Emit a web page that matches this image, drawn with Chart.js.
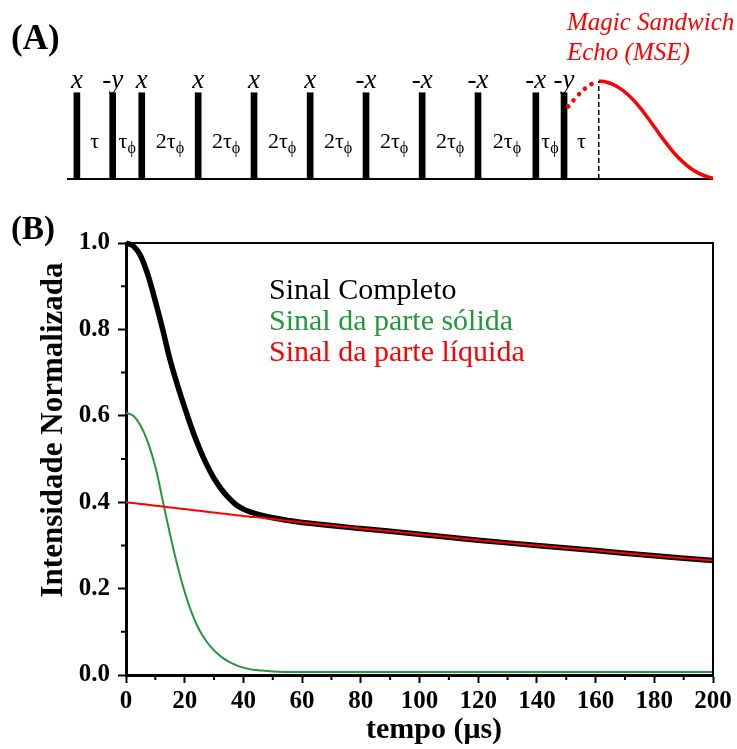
<!DOCTYPE html>
<html>
<head>
<meta charset="utf-8">
<script src="https://cdn.jsdelivr.net/npm/chart.js@4.4.0/dist/chart.umd.min.js"></script>
<style>
body { margin: 0; background: #fff; }
#wrap { position: relative; width: 737px; height: 749px; }
#pulseCanvas { position: absolute; left: 0; top: 0; }
#decayCanvas { position: absolute; left: 0; top: 200px; }
</style>
</head>
<body>
<div id="wrap">
<canvas id="pulseCanvas" width="737" height="200"></canvas>
<canvas id="decayCanvas" width="737" height="549"></canvas>
</div>
<script>
// ---- Panel (A): MSE pulse sequence (time in units of tau_phi) ----
const pulseTimes = [0, 1.27, 2.3, 4.3, 6.28, 8.27, 10.25, 12.24, 14.22, 16.27, 17.27];
const pulseHeights = [0.88, 0.88, 0.88, 0.88, 0.88, 0.88, 0.88, 0.88, 0.88, 0.88, 0.88];
const pulsePhases = ['x', '-y', 'x', 'x', 'x', 'x', '-x', '-x', '-x', '-x', '-y'];
const delayMain = ['τ', 'τ', '2τ', '2τ', '2τ', '2τ', '2τ', '2τ', '2τ', 'τ', 'τ'];
const delaySub = ['', 'ϕ', 'ϕ', 'ϕ', 'ϕ', 'ϕ', 'ϕ', 'ϕ', 'ϕ', 'ϕ', ''];

const echoTimes = [18.5, 18.75, 19.0, 19.25, 19.5, 19.75, 20.0, 20.25, 20.5, 20.75, 21.0, 21.25, 21.5, 21.75, 22.0, 22.25, 22.5, 22.55];
const echoValues = [1.0, 0.99, 0.965, 0.925, 0.87, 0.80, 0.715, 0.62, 0.52, 0.42, 0.325, 0.24, 0.17, 0.11, 0.065, 0.033, 0.012, 0.008];
const riseTimes = [17.42, 17.75, 18.0, 18.25, 18.5];
const riseValues = [0.74, 0.85, 0.92, 0.97, 1.0];
const echoPeak = 18.5;
const sequenceStart = -0.35;
const sequenceEnd = 22.55;

// ---- Panel (B): normalized signal vs time ----
const tempo = [0, 2.5, 5, 7.5, 10, 12.5, 15, 17.5, 20, 22.5, 25, 27.5, 30, 32.5, 35, 37.5, 40, 42.5, 45, 50, 55, 60, 80, 100, 120, 140, 160, 180, 200];
const sinalCompleto = [1.0, 0.993, 0.970, 0.925, 0.865, 0.800, 0.730, 0.672, 0.619, 0.569, 0.525, 0.487, 0.455, 0.430, 0.410, 0.394, 0.384, 0.377, 0.372, 0.364, 0.358, 0.353, 0.339, 0.326, 0.312, 0.300, 0.288, 0.276, 0.265];
const sinalSolido = [0.607, 0.600, 0.577, 0.538, 0.482, 0.404, 0.326, 0.254, 0.192, 0.142, 0.104, 0.077, 0.057, 0.042, 0.031, 0.023, 0.017, 0.013, 0.011, 0.008, 0.007, 0.007, 0.007, 0.007, 0.007, 0.007, 0.007, 0.007, 0.007];
const sinalLiquido = [0.400, 0.398, 0.396, 0.394, 0.392, 0.390, 0.388, 0.386, 0.384, 0.382, 0.380, 0.378, 0.376, 0.374, 0.372, 0.370, 0.368, 0.366, 0.365, 0.361, 0.357, 0.353, 0.339, 0.326, 0.312, 0.300, 0.288, 0.276, 0.265];

const legendLabels = ['Sinal Completo', 'Sinal da parte sólida', 'Sinal da parte líquida'];
const xTitle = 'tempo (μs)';
const yTitle = 'Intensidade Normalizada';
const minorTempoTicks = [10, 30, 50, 70, 90, 110, 130, 150, 170, 190];
const minorIntensityTicks = [0.1, 0.3, 0.5, 0.7, 0.9];

const SERIF = "'Liberation Serif', 'Times New Roman', serif";
const GREEN = '#22983a';
const RED = '#ff0000';

function pairs(xs, ys) {
    return xs.map((v, i) => ({ x: v, y: ys[i] }));
}

// Pulse labels, delay labels and the echo caption
const pulseLabels = {
    id: 'pulseLabels',
    afterDraw(chart) {
        const { ctx, scales: { x, y } } = chart;
        ctx.save();
        ctx.fillStyle = '#000';
        ctx.textAlign = 'center';
        ctx.textBaseline = 'alphabetic';

        // phases above each pulse
        ctx.font = 'italic 27px ' + SERIF;
        pulseTimes.forEach((t, i) => {
            ctx.fillText(pulsePhases[i], x.getPixelForValue(t), y.getPixelForValue(pulseHeights[i]) - 5);
        });

        // delays between pulses (last one up to the echo top)
        const stops = pulseTimes.concat([echoPeak]);
        const base = y.getPixelForValue(0.315);
        for (let i = 0; i < delayMain.length; i++) {
            const mid = (x.getPixelForValue(stops[i]) + x.getPixelForValue(stops[i + 1])) / 2;
            ctx.font = '22px ' + SERIF;
            const w1 = ctx.measureText(delayMain[i]).width;
            ctx.font = '16px ' + SERIF;
            const w2 = delaySub[i] ? ctx.measureText(delaySub[i]).width : 0;
            const left = mid - (w1 + w2) / 2;
            ctx.textAlign = 'left';
            ctx.font = '22px ' + SERIF;
            ctx.fillText(delayMain[i], left, base);
            if (delaySub[i]) {
                ctx.font = '16px ' + SERIF;
                ctx.fillText(delaySub[i], left + w1, base + 5);
            }
        }

        ctx.textAlign = 'left';
        ctx.font = 'bold 35px ' + SERIF;
        ctx.fillText('(A)', 11, 49);

        ctx.fillStyle = RED;
        ctx.font = 'italic 25px ' + SERIF;
        ctx.fillText('Magic Sandwich', 567, 30);
        ctx.fillText('Echo (MSE)', 567, 60);
        ctx.restore();
    }
};

new Chart(document.getElementById('pulseCanvas'), {
    type: 'line',
    data: {
        datasets: [
            {
                type: 'line',
                data: [{ x: echoPeak, y: 0 }, { x: echoPeak, y: 1 }],
                borderColor: '#000',
                borderWidth: 1.5,
                borderDash: [5, 3],
                pointRadius: 0
            },
            {
                type: 'line',
                data: pairs(riseTimes, riseValues),
                borderColor: RED,
                borderWidth: 4.5,
                borderDash: [0.1, 8],
                borderCapStyle: 'round',
                tension: 0.4,
                pointRadius: 0
            },
            {
                type: 'line',
                data: pairs(echoTimes, echoValues),
                borderColor: RED,
                borderWidth: 3.5,
                tension: 0.4,
                pointRadius: 0
            },
            {
                type: 'bar',
                data: pairs(pulseTimes, pulseHeights),
                backgroundColor: '#000',
                barThickness: 6
            },
            {
                type: 'line',
                data: [{ x: sequenceStart, y: 0 }, { x: sequenceEnd, y: 0 }],
                borderColor: '#000',
                borderWidth: 2,
                pointRadius: 0
            }
        ]
    },
    options: {
        responsive: false,
        animation: false,
        layout: { padding: { left: 67, right: 24, top: 81, bottom: 21 } },
        scales: {
            x: { type: 'linear', min: sequenceStart, max: sequenceEnd, display: false, offset: false },
            y: { min: 0, max: 1, display: false }
        },
        datasets: { line: { clip: false }, bar: { clip: false } },
        plugins: { legend: { display: false }, tooltip: { enabled: false } }
    },
    plugins: [pulseLabels]
});

// Frame, minor ticks, titles and the coloured legend text
const decayDecorations = {
    id: 'decayDecorations',
    afterDraw(chart) {
        const { ctx, chartArea: a, scales: { x, y } } = chart;
        ctx.save();
        ctx.strokeStyle = '#000';
        ctx.lineWidth = 2;
        ctx.beginPath();
        ctx.moveTo(a.left, a.top);
        ctx.lineTo(a.right, a.top);
        ctx.lineTo(a.right, a.bottom);
        ctx.stroke();

        ctx.beginPath();
        minorTempoTicks.forEach(v => {
            const px = x.getPixelForValue(v);
            ctx.moveTo(px, a.bottom);
            ctx.lineTo(px, a.bottom + 5);
        });
        minorIntensityTicks.forEach(v => {
            const py = y.getPixelForValue(v);
            ctx.moveTo(a.left, py);
            ctx.lineTo(a.left - 5, py);
        });
        ctx.stroke();

        ctx.fillStyle = '#000';
        ctx.font = 'bold 30px ' + SERIF;
        ctx.textAlign = 'center';
        ctx.fillText(xTitle, 434, 538);

        ctx.save();
        ctx.translate(62, 230);
        ctx.rotate(-Math.PI / 2);
        ctx.font = 'bold 31px ' + SERIF;
        ctx.fillText(yTitle, 0, 0);
        ctx.restore();

        ctx.textAlign = 'left';
        ctx.font = 'bold 33px ' + SERIF;
        ctx.fillText('(B)', 11, 39);

        const colors = ['#000', GREEN, RED];
        ctx.font = '30px ' + SERIF;
        legendLabels.forEach((txt, i) => {
            ctx.fillStyle = colors[i];
            ctx.fillText(txt, 269, 99 + i * 31);
        });
        ctx.restore();
    }
};

const tickFont = { family: SERIF, size: 25, weight: 'bold' };

new Chart(document.getElementById('decayCanvas'), {
    type: 'line',
    data: {
        datasets: [
            { label: legendLabels[2], data: pairs(tempo, sinalLiquido), borderColor: RED, borderWidth: 2 },
            { label: legendLabels[1], data: pairs(tempo, sinalSolido), borderColor: GREEN, borderWidth: 2 },
            { label: legendLabels[0], data: pairs(tempo, sinalCompleto), borderColor: '#000', borderWidth: 5.5 }
        ]
    },
    options: {
        responsive: false,
        animation: false,
        layout: { padding: { left: 0, right: 24, top: 43, bottom: 0 } },
        elements: { point: { radius: 0 }, line: { tension: 0.4 } },
        datasets: { line: { clip: false } },
        scales: {
            x: {
                type: 'linear',
                min: 0,
                max: 200,
                afterFit: s => { s.height = 74; },
                border: { color: '#000', width: 3 },
                grid: { drawOnChartArea: false, drawTicks: true, tickLength: 8, tickWidth: 2, color: '#000' },
                ticks: { stepSize: 20, color: '#000', font: tickFont, padding: 4, maxRotation: 0 }
            },
            y: {
                min: 0,
                max: 1,
                afterFit: s => { s.width = 126; },
                border: { color: '#000', width: 3 },
                grid: { drawOnChartArea: false, drawTicks: true, tickLength: 8, tickWidth: 2, color: '#000' },
                ticks: { stepSize: 0.2, color: '#000', font: tickFont, padding: 8, callback: v => v.toFixed(1) }
            }
        },
        plugins: { legend: { display: false }, tooltip: { enabled: false } }
    },
    plugins: [decayDecorations]
});
</script>
</body>
</html>
